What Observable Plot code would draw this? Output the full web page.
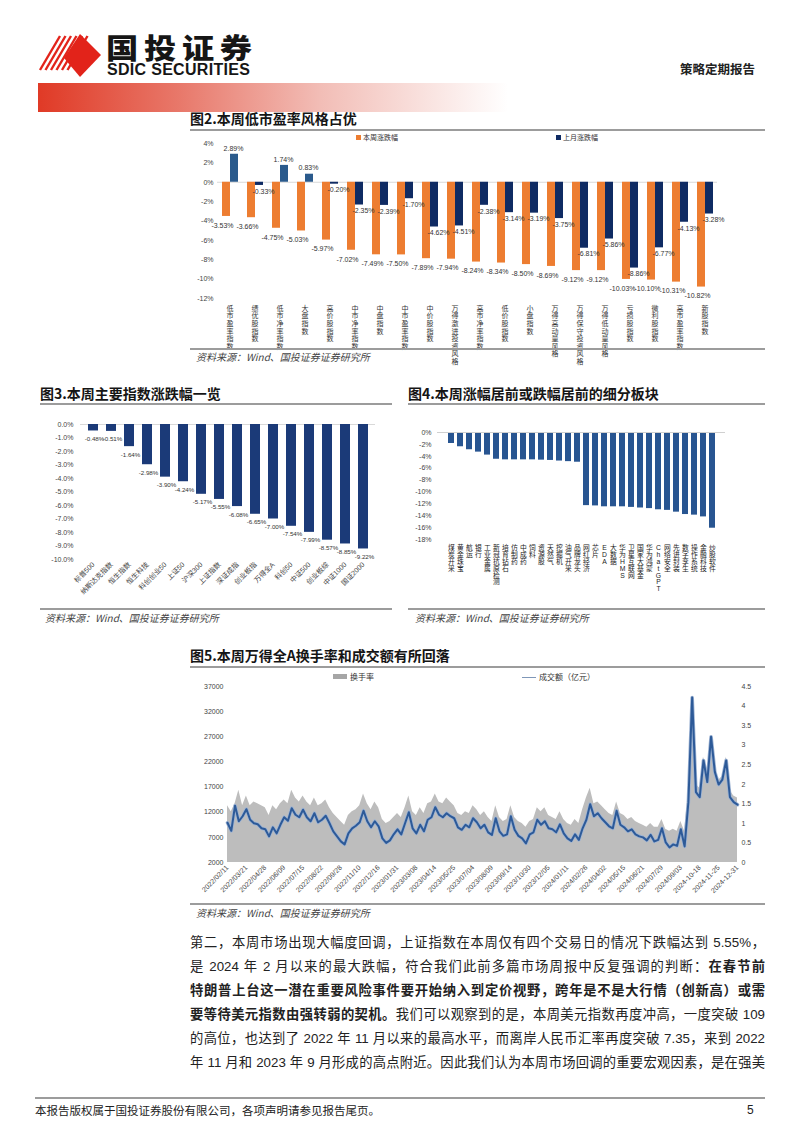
<!DOCTYPE html>
<html><head><meta charset="utf-8">
<script src="https://cdn.jsdelivr.net/npm/d3@7"></script>
<script src="https://cdn.jsdelivr.net/npm/@observablehq/plot@0.6"></script>
<style>
body{margin:0;background:#fff;}
#page{position:relative;width:802px;height:1133px;overflow:hidden;background:#fff;font-family:'Liberation Sans','Noto Sans CJK SC',sans-serif;color:#222;}
.abs{position:absolute;white-space:nowrap;}
.title{font-family:'Noto Sans CJK SC',sans-serif;font-weight:700;font-size:14px;line-height:20px;color:#151515;}
.hr{position:absolute;height:1.5px;background:#9c9c9c;}
.src{font-family:'Noto Sans CJK SC',sans-serif;font-style:italic;font-size:10px;line-height:14px;color:#444;}
.leg{font-family:'Noto Sans CJK SC',sans-serif;font-size:7px;line-height:10px;color:#333;}
.body{position:absolute;left:190px;width:575px;font-family:'Liberation Sans','Noto Sans CJK SC',sans-serif;font-size:13.3px;line-height:20px;color:#222;text-align:justify;text-align-last:justify;}
.body b{font-weight:700;}
.chart{position:absolute;}
.chart svg{overflow:visible;}
</style></head>
<body><div id="page">

<!-- header -->
<svg class="abs" style="left:0;top:0" width="120" height="90">
  <g stroke="#e2231a" stroke-width="2.4">
    <line x1="40" y1="70" x2="60" y2="36"/>
    <line x1="45.5" y1="70" x2="65.5" y2="36"/>
    <line x1="51" y1="70" x2="71" y2="36"/>
    <line x1="56.5" y1="70" x2="76.5" y2="36"/>
    <line x1="62" y1="70" x2="82" y2="36"/>
    <line x1="67.5" y1="70" x2="87.5" y2="36"/>
  </g>
  <polygon points="80,34 101,55 80,77 64,58" fill="#e2231a"/>
</svg>
<div class="abs" style="left:106px;top:33px;font-family:'Noto Sans CJK SC';font-weight:900;font-size:28px;line-height:28px;letter-spacing:5px;color:#161616;transform:scaleX(1.15);transform-origin:left top;">国投证券</div>
<div class="abs" style="left:107px;top:63px;font-family:'Liberation Sans Narrow','Liberation Sans',sans-serif;font-weight:700;font-size:16px;line-height:13px;color:#161616;letter-spacing:0.3px;">SDIC SECURITIES</div>
<div class="abs" style="left:680px;top:60px;font-family:'Noto Sans CJK SC';font-weight:700;font-size:12.5px;line-height:18px;color:#222;">策略定期报告</div>
<div class="abs" style="left:38px;top:83px;width:470px;height:29px;background:linear-gradient(to right,#e03a26 0%,#e8786a 30%,#f2bdb6 60%,#ffffff 100%);"></div>

<!-- chart 2 -->
<div class="abs title" style="left:190px;top:108px;">图2.本周低市盈率风格占优</div>
<div class="hr" style="left:190px;top:129px;width:575px;"></div>
<div id="c2" class="chart" style="left:190px;top:131px;"></div>
<div id="leg2" class="abs leg" style="left:356px;top:132px;"></div>
<div id="leg2b" class="abs leg" style="left:556px;top:132px;"></div>
<div class="hr" style="left:190px;top:348px;width:575px;"></div>
<div class="abs src" style="left:196px;top:350px;">资料来源：Wind、国投证券证券研究所</div>

<!-- chart 3 -->
<div class="abs title" style="left:40px;top:383px;">图3.本周主要指数涨跌幅一览</div>
<div class="hr" style="left:40px;top:403px;width:352px;"></div>
<div id="c3" class="chart" style="left:40px;top:405px;"></div>
<div class="hr" style="left:40px;top:608px;width:352px;"></div>
<div class="abs src" style="left:45px;top:611px;">资料来源：Wind、国投证券证券研究所</div>

<!-- chart 4 -->
<div class="abs title" style="left:408px;top:383px;">图4.本周涨幅居前或跌幅居前的细分板块</div>
<div class="hr" style="left:408px;top:403px;width:357px;"></div>
<div id="c4" class="chart" style="left:408px;top:405px;"></div>
<div class="hr" style="left:408px;top:608px;width:357px;"></div>
<div class="abs src" style="left:415px;top:611px;">资料来源：Wind、国投证券证券研究所</div>

<!-- chart 5 -->
<div class="abs title" style="left:190px;top:645px;">图5.本周万得全A换手率和成交额有所回落</div>
<div class="hr" style="left:190px;top:666px;width:575px;"></div>
<div id="c5" class="chart" style="left:190px;top:668px;"></div>
<div id="leg5" class="abs" style="left:333px;top:671px;font-family:'Noto Sans CJK SC';font-size:8px;line-height:12px;color:#333;"></div>
<div id="leg5b" class="abs" style="left:522px;top:671px;font-family:'Noto Sans CJK SC';font-size:8px;line-height:12px;color:#333;"></div>
<div class="hr" style="left:190px;top:903px;width:575px;"></div>
<div class="abs src" style="left:196px;top:906px;">资料来源：Wind、国投证券证券研究所</div>

<!-- body text -->
<div class="body" style="top:933px;">第二，本周市场出现大幅度回调，上证指数在本周仅有四个交易日的情况下跌幅达到 5.55%，</div>
<div class="body" style="top:957px;">是 2024 年 2 月以来的最大跌幅，符合我们此前多篇市场周报中反复强调的判断：<b>在春节前</b></div>
<div class="body" style="top:981px;"><b>特朗普上台这一潜在重要风险事件要开始纳入到定价视野，跨年是不是大行情（创新高）或需</b></div>
<div class="body" style="top:1005px;"><b>要等待美元指数由强转弱的契机。</b>我们可以观察到的是，本周美元指数再度冲高，一度突破 109</div>
<div class="body" style="top:1029px;">的高位，也达到了 2022 年 11 月以来的最高水平，而离岸人民币汇率再度突破 7.35，来到 2022</div>
<div class="body" style="top:1053px;">年 11 月和 2023 年 9 月形成的高点附近。因此我们认为本周市场回调的重要宏观因素，是在强美</div>

<!-- footer -->
<div class="hr" style="left:35px;top:1097px;width:730px;height:1.5px;"></div>
<div class="abs" style="left:35px;top:1102px;font-family:'Noto Sans CJK SC';font-size:11.5px;line-height:16px;color:#222;">本报告版权属于国投证券股份有限公司，各项声明请参见报告尾页。</div>
<div class="abs" style="left:747px;top:1102px;font-family:'Liberation Sans';font-size:12px;line-height:16px;color:#222;">5</div>

</div>
<script>
// ---------- data: chart 2 ----------
const styleNames = ["低市盈率指数","绩优股指数","低市净率指数","大盘指数","高价股指数","中市净率指数","中盘指数","中市盈率指数","中价股指数","万得激进投资风格","高市净率指数","低价股指数","小盘指数","万得高动量风格","万得保守投资风格","万得低动量风格","亏损股指数","微利股指数","高市盈率指数","新股指数"];
const styleWeek  = [-3.53,-3.66,-4.75,-5.03,-5.97,-7.02,-7.49,-7.50,-7.89,-7.94,-8.24,-8.34,-8.50,-8.69,-9.12,-9.12,-10.03,-10.10,-10.31,-10.82];
const styleMonth = [2.89,-0.33,1.74,0.83,-0.20,-2.35,-2.39,-1.70,-4.62,-4.51,-2.38,-3.14,-3.19,-3.75,-6.81,-5.86,-8.86,-6.77,-4.13,-3.28];
const styleSeries = ["本周涨跌幅","上月涨跌幅"];
const styleTicks = [4,2,0,-2,-4,-6,-8,-10,-12];

// ---------- data: chart 3 ----------
const indexNames = ["标普500","纳斯达克指数","恒生指数","恒生科技","科创创业50","上证50","沪深300","上证指数","深证成指","创业板指","万得全A","科创50","中证500","创业板综","中证1000","国证2000"];
const indexChg = [-0.48,-0.51,-1.64,-2.98,-3.90,-4.24,-5.17,-5.55,-6.08,-6.65,-7.00,-7.54,-7.99,-8.57,-8.85,-9.22];
const indexTicks = [0,-1,-2,-3,-4,-5,-6,-7,-8,-9,-10];

// ---------- data: chart 4 ----------
const sectorNames = ["煤炭开采","黄金珠宝","航运","银行","工业金属","新冠抗原检测","培育钻石","仿制药","中成药","饲料","资源股","天然气","挖掘机","油气开采","品牌龙头","网红经济","芯片","EDA","大数据","华为HMS","卫星互联网","国家大基金","华为鸿蒙","ChatGPT","网络安全","先进封装","数字孪生","操作系统","金融科技","炒股软件"];
const sectorChg = [-1.85,-2.4,-2.9,-3.3,-3.8,-4.5,-4.6,-4.6,-4.6,-4.6,-4.65,-4.7,-4.8,-4.9,-5.0,-12.3,-12.35,-12.5,-12.5,-12.5,-12.6,-12.7,-12.8,-13.0,-13.1,-13.4,-13.8,-13.9,-14.2,-16.1];
const sectorTicks = [0,-2,-4,-6,-8,-10,-12,-14,-16,-18];

// ---------- data: chart 5 ----------
const dateTicks = ["2022/02/11","2022/03/21","2022/04/28","2022/06/09","2022/07/15","2022/08/22","2022/09/28","2022/11/10","2022/12/16","2023/01/31","2023/03/08","2023/04/14","2023/05/25","2023/07/04","2023/08/09","2023/09/14","2023/10/30","2023/12/05","2024/01/11","2024/02/26","2024/04/02","2024/05/15","2024/06/21","2024/07/29","2024/09/03","2024-10-18","2024-11-25","2024-12-31"];
const amount = [
 9900,8300,13300,10200,11200, 12600,10500,9800,9600,8800, 8600,7200,9000,7800,9500,
 11000,10300,12800,11500,11000, 12500,11000,10200,11800,10000, 10500,11300,9800,8200,7200,
 6200,5600,7800,8800,9300, 10000,12300,10200,9000,10200, 9200,6800,5900,6400,7600,
 8600,7600,9800,12000,8800, 7800,9500,8200,10500,11000, 13000,11500,11000,11800,11200,
 10800,9000,8500,9500,9000, 10800,10000,8800,9500,8000, 7500,10800,8200,7300,7600,
 11200,8500,7300,6800,5800, 7600,8000,10500,9500,10200, 8800,8600,8000,9600,7800,
 6800,6300,7600,6500,8800, 10500,13600,11200,11800,10800, 10000,9200,8800,12300,9500,
 9000,8200,8600,7600,7200, 7000,6400,7500,6200,6500, 8800,6000,5000,5600,5300,
 8600,5200,14000,34800,16000, 15000,22300,18000,27000,20000, 17500,18500,22300,15000,14000,
 13500];
const turnover = [
 1.45,1.30,1.50,1.85,1.45, 1.70,1.45,1.55,1.50,1.45, 1.40,1.20,1.45,1.35,1.50,
 1.60,1.50,1.85,1.65,1.55, 1.70,1.55,1.45,1.65,1.45, 1.50,1.60,1.40,1.25,1.15,
 1.05,0.95,1.20,1.30,1.35, 1.45,1.75,1.50,1.35,1.55, 1.40,1.10,1.00,1.05,1.15,
 1.25,1.15,1.40,1.70,1.30, 1.20,1.40,1.25,1.50,1.55, 1.75,1.55,1.50,1.65,1.55,
 1.45,1.25,1.20,1.30,1.25, 1.45,1.35,1.20,1.30,1.15, 1.05,1.45,1.15,1.05,1.10,
 1.45,1.15,1.05,1.00,0.90, 1.05,1.10,1.40,1.30,1.40, 1.20,1.15,1.10,1.30,1.10,
 1.00,0.95,1.10,1.00,1.35, 1.65,1.90,1.50,1.55,1.45, 1.35,1.25,1.20,1.55,1.25,
 1.20,1.10,1.15,1.05,1.00, 0.95,0.90,1.00,0.90,0.90, 1.10,0.85,0.80,0.85,0.80,
 1.05,0.80,1.80,4.00,2.00, 1.90,2.70,2.20,3.10,2.40, 2.10,2.20,2.70,1.85,1.70,
 1.65];
const amountTicks = [2000,7000,12000,17000,22000,27000,32000,37000];
const turnoverTicks = [0,0.5,1,1.5,2,2.5,3,3.5,4,4.5];

// ---------- styles ----------
const FONT = "'Liberation Sans','Noto Sans CJK SC',sans-serif";
const ORANGE = "#ed7d31", NAVY = "#0f2b63", NAVY_POS = "#2a5a8c";
const stack = s => s.split("").join("\n");

// legends
document.getElementById("leg2").innerHTML = `<span style="display:inline-block;width:5px;height:5px;background:${ORANGE};margin-right:2px;vertical-align:0px"></span>${styleSeries[0]}`;
document.getElementById("leg2b").innerHTML = `<span style="display:inline-block;width:5px;height:5px;background:${NAVY};margin-right:2px;vertical-align:0px"></span>${styleSeries[1]}`;
document.getElementById("leg5").innerHTML = `<span style="display:inline-block;width:14px;height:5px;background:#a6a6a6;margin-right:3px;vertical-align:1px"></span>换手率`;
document.getElementById("leg5b").innerHTML = `<span style="display:inline-block;width:14px;height:1.5px;background:#7f97b8;margin-right:3px;vertical-align:2px"></span>成交额（亿元）`;

// ---------- chart 2 ----------
const d2 = styleNames.flatMap((c,i)=>[{c,s:styleSeries[0],v:styleWeek[i]},{c,s:styleSeries[1],v:styleMonth[i]}]);
const c2 = Plot.plot({
  width:575,height:218,marginTop:12,marginBottom:51,marginLeft:21,marginRight:43,
  style:{fontSize:"7px",fontFamily:FONT,color:"#444",background:"transparent"},
  fx:{domain:styleNames,padding:0,axis:null,label:null},
  x:{domain:styleSeries,paddingInner:0,paddingOuter:0.47,axis:null},
  y:{domain:[-12,4],label:null},
  marks:[
    Plot.ruleY([0],{stroke:"#d9d9d9"}),
    Plot.barY(d2,{fx:"c",x:"s",y:"v",fill:d=>d.s===styleSeries[0]?ORANGE:(d.v>0?NAVY_POS:NAVY)}),
    Plot.text(d2.filter(d=>d.s===styleSeries[0]),{fx:"c",x:"s",y:"v",text:d=>d.v.toFixed(2)+"%",dy:9,dx:-4,fill:"#333"}),
    Plot.text(d2.filter(d=>d.s===styleSeries[1]&&d.v<0),{fx:"c",x:"s",y:"v",text:d=>d.v.toFixed(2)+"%",dy:6,dx:4,fill:"#333"}),
    Plot.text(d2.filter(d=>d.s===styleSeries[1]&&d.v>0),{fx:"c",x:"s",y:"v",text:d=>d.v.toFixed(2)+"%",dy:-6,dx:-1,fill:"#333"}),
    Plot.text(styleNames,{fx:d=>d,frameAnchor:"bottom",dy:7,lineAnchor:"top",lineHeight:1.08,text:stack,fill:"#333"}),
    Plot.axisY({ticks:styleTicks,tickFormat:d=>d+"%",tickSize:0,tickPadding:4,label:null})
  ]
});
document.getElementById("c2").append(c2);

// ---------- chart 3 ----------
const c3 = Plot.plot({
  width:352,height:203,marginTop:19,marginBottom:49,marginLeft:40,marginRight:17,
  style:{fontSize:"7px",fontFamily:FONT,color:"#444",background:"transparent"},
  x:{domain:indexNames,paddingInner:0.45,paddingOuter:0.1,label:null},
  y:{domain:[-10,0],label:null},
  marks:[
    Plot.ruleY([0],{stroke:"#d9d9d9"}),
    Plot.barY(indexNames,{x:d=>d,y:(d,i)=>indexChg[i],fill:"#1b3a78"}),
    Plot.text(indexNames,{x:d=>d,y:(d,i)=>indexChg[i],text:(d,i)=>indexChg[i].toFixed(2)+"%",dy:8,dx:1,fill:"#333",fontSize:6.2}),
    Plot.axisY({ticks:indexTicks,tickFormat:d=>d.toFixed(1)+"%",tickSize:0,tickPadding:7,label:null}),
    Plot.axisX({tickRotate:-45,tickSize:0,tickPadding:4,label:null})
  ]
});
document.getElementById("c3").append(c3);

// ---------- chart 4 ----------
const c4 = Plot.plot({
  width:357,height:203,marginTop:27,marginBottom:69,marginLeft:29,marginRight:40,
  style:{fontSize:"7px",fontFamily:FONT,color:"#444",background:"transparent"},
  x:{domain:sectorNames,paddingInner:0.37,paddingOuter:0.1,axis:null},
  y:{domain:[-18,0],label:null},
  marks:[
    Plot.barY(sectorNames,{x:d=>d,y:(d,i)=>sectorChg[i],fill:"#285591"}),
    Plot.ruleY([0],{stroke:"#d0d0d0"}),
    Plot.text(sectorNames,{x:d=>d,frameAnchor:"bottom",dy:6,lineAnchor:"top",lineHeight:1.0,text:stack,fill:"#222",fontSize:6.8}),
    Plot.axisY({ticks:sectorTicks,tickFormat:d=>d+"%",tickSize:0,tickPadding:6,label:null})
  ]
});
document.getElementById("c4").append(c4);

// ---------- chart 5 ----------
const perUnit = (amountTicks[amountTicks.length-1]-amountTicks[0])/turnoverTicks[turnoverTicks.length-1];
const toLeft = r => amountTicks[0] + r*perUnit;
const d5 = amount.map((v,i)=>({x:i/5, amt:v, to:turnover[i]}));
const c5 = Plot.plot({
  width:575,height:235,marginTop:18,marginBottom:41,marginLeft:37,marginRight:28,
  style:{fontSize:"7px",fontFamily:FONT,color:"#444",background:"transparent"},
  x:{domain:[0,dateTicks.length-1],label:null},
  y:{domain:[2000,37000],label:null},
  marks:[
    Plot.areaY(d5,{x:"x",y1:toLeft(0),y2:d=>toLeft(d.to),fill:"#bdbdbd"}),
    Plot.lineY(d5,{x:"x",y:"amt",stroke:"#9db3d3",strokeWidth:3.6}),
    Plot.lineY(d5,{x:"x",y:"amt",stroke:"#2d5a98",strokeWidth:2}),
    Plot.axisY({ticks:amountTicks,tickSize:0,tickPadding:4,tickFormat:d=>String(d),label:null}),
    Plot.axisY(turnoverTicks.map(toLeft),{anchor:"right",tickSize:0,tickPadding:4,tickFormat:v=>String(Math.round((v-amountTicks[0])/perUnit*10)/10),label:null}),
    Plot.axisX(d3.range(dateTicks.length),{tickRotate:-45,tickSize:0,tickPadding:4,tickFormat:i=>dateTicks[i],label:null})
  ]
});
document.getElementById("c5").append(c5);
</script>
</body></html>
